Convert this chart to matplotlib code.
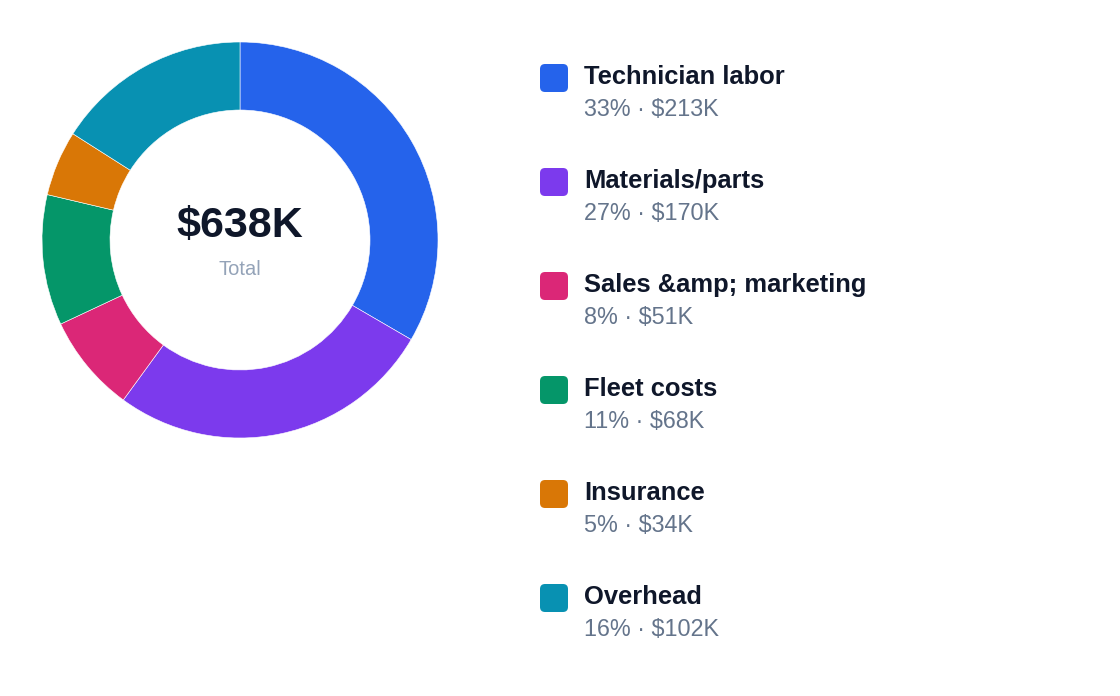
import matplotlib
matplotlib.use("Agg")
import matplotlib.pyplot as plt
from matplotlib.patches import FancyBboxPatch

plt.rcParams["font.family"] = ["Liberation Sans", "DejaVu Sans"]

# data
categories = ["Technician labor", "Materials/parts", "Sales &amp; marketing",
              "Fleet costs", "Insurance", "Overhead"]
values_k = [213, 170, 51, 68, 34, 102]
percents = [33, 27, 8, 11, 5, 16]
colors = ["#2563eb", "#7c3aed", "#db2777", "#059669", "#d97706", "#0891b2"]
total_label = "$638K"

W, H = 1120, 696
fig = plt.figure(figsize=(W / 100, H / 100), dpi=100)
fig.patch.set_facecolor("white")

# donut: centre (240, 240) px, outer radius 198 px, inner radius 130 px
cx, cy, r_out = 240, 240, 198
ax = fig.add_axes([(cx - r_out) / W, (H - cy - r_out) / H, 2 * r_out / W, 2 * r_out / H])
ax.pie(values_k, colors=colors, startangle=90, counterclock=False, radius=1.0,
       wedgeprops=dict(width=68 / 198, edgecolor="white", linewidth=0.4))
ax.set_xlim(-1, 1)
ax.set_ylim(-1, 1)
ax.set_aspect("equal")
ax.axis("off")

fig.text(cx / W, 1 - 237 / H, total_label, ha="center", va="baseline",
         fontsize=31, fontweight="bold", color="#0f172a")
fig.text(cx / W, 1 - 275 / H, "Total", ha="center", va="baseline",
         fontsize=14.5, color="#94a3b8")

# legend drawn by hand in pixel positions
for i, (name, pct, val, col) in enumerate(zip(categories, percents, values_k, colors)):
    y0 = 64 + 104 * i
    sq = FancyBboxPatch((540 / W, 1 - (y0 + 28) / H), 28 / W, 28 / H,
                        boxstyle="round,pad=0,rounding_size=0.0045",
                        transform=fig.transFigure, facecolor=col, edgecolor="none",
                        mutation_aspect=W / H)
    fig.add_artist(sq)
    fig.text(584 / W, 1 - (y0 + 20) / H, name, ha="left", va="baseline",
             fontsize=18.4, fontweight="bold", color="#0f172a")
    fig.text(584 / W, 1 - (y0 + 52.5) / H, f"{pct}% \u00b7 ${val}K", ha="left",
             va="baseline", fontsize=16.8, color="#64748b")

fig.savefig("out.png", dpi=100, facecolor="white")
